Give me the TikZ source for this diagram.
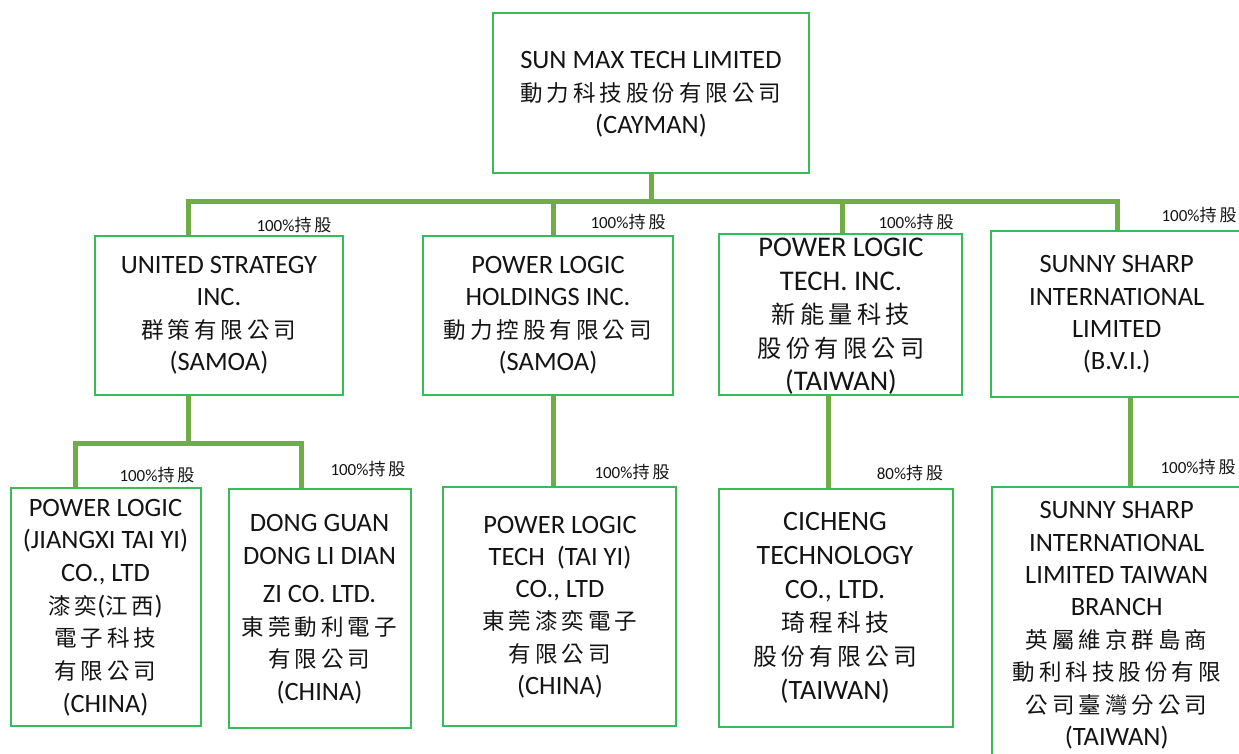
\documentclass[tikz,border=0pt]{standalone}
\usepackage{fontspec}
\setmainfont{Carlito}
\newfontfamily\cjk[Scale=0.85,LetterSpace=17.65]{Noto Sans CJK TC}
\definecolor{boxgreen}{RGB}{55,188,90}
\definecolor{linegreen}{RGB}{112,173,71}
\definecolor{txt}{RGB}{20,20,20}
\newcommand\cj[1]{{\cjk #1}}
\newcommand\sr{\rule[-.28\baselineskip]{0pt}{\baselineskip}}
\newcommand\pct[1]{#1\%{\fontsize{20pt}{20pt}\selectfont\cjk 持股}}
\newcommand\mkbox[5]{\node[bx, minimum width={#4-#2}, minimum height={#5-#3}] (#1) at ({(#2+#4)/2},{(#3+#5)/2}) {};}
\tikzset{
  bx/.style={draw=boxgreen, line width=1.4pt, inner sep=0pt},
  conn/.style={draw=linegreen, line width=5pt},
  tx/.style={align=center, inner sep=0pt, text=txt, font=\fontsize{26.5pt}{32.5pt}\selectfont},
  lbl/.style={inner sep=0pt, text=txt, font=\fontsize{17pt}{20pt}\selectfont}
}
\begin{document}
\begin{tikzpicture}[x=1pt,y=-1pt]
\useasboundingbox (0,0) rectangle (1239,753);
\clip (0,0) rectangle (1239,753);
% boxes
\mkbox{root}{493}{13}{809}{173}
\mkbox{us}{95}{236}{343}{395}
\mkbox{plh}{423}{236}{673}{395}
\mkbox{plt}{719}{234}{962}{395}
\mkbox{ss}{991}{231}{1250}{397}
\mkbox{jx}{11}{488}{201}{726}
\mkbox{dg}{229}{489}{411}{728}
\mkbox{pty}{443}{487}{676}{726}
\mkbox{cc}{719}{489}{953}{727}
\mkbox{sst}{992}{487}{1250}{770}
% texts
\node[tx] (rtt) at (651,94) {\sr SUN MAX TECH LIMITED\\\sr\cj{動力科技股份有限公司}\\\sr (CAYMAN)};
\node[tx] (ust) at (219,315) {\sr UNITED STRATEGY\\\sr INC.\\\sr\cj{群策有限公司}\\\sr (SAMOA)};
\node[tx] (plht) at (548,315) {\sr POWER LOGIC\\\sr HOLDINGS INC.\\\sr\cj{動力控股有限公司}\\\sr (SAMOA)};
\node[tx, font=\fontsize{28.5pt}{33.6pt}\selectfont] (pltt) at (841,316.2) {\sr POWER LOGIC\\\sr TECH. INC.\\\sr\cj{新能量科技}\\\sr\cj{股份有限公司}\\\sr (TAIWAN)};
\node[tx, font=\fontsize{26.5pt}{32.3pt}\selectfont] (sst1) at (1116.7,314.2) {\sr SUNNY SHARP\\\sr INTERNATIONAL\\\sr LIMITED\\\sr (B.V.I.)};
\node[tx, font=\fontsize{26.5pt}{32.7pt}\selectfont] (jxt) at (105.5,607) {\sr POWER LOGIC\\\sr (JIANGXI TAI YI)\\\sr CO., LTD\\\sr\cj{漆奕}(\cj{江西})\\\sr\cj{電子科技}\\\sr\cj{有限公司}\\\sr (CHINA)};
\node[tx] (dgt) at (319.5,608.8) {\sr DONG GUAN\\\sr DONG LI DIAN\\[6pt]\sr ZI CO. LTD.\\\sr\cj{東莞動利電子}\\\sr\cj{有限公司}\\\sr (CHINA)};
\node[tx, font=\fontsize{26.5pt}{32.3pt}\selectfont] (ptyt) at (560,606.7) {\sr POWER LOGIC\\\sr TECH~ (TAI YI)\\\sr CO., LTD\\\sr\cj{東莞漆奕電子}\\\sr\cj{有限公司}\\\sr (CHINA)};
\node[tx, font=\fontsize{28pt}{33.7pt}\selectfont] (cct) at (835,607.5) {\sr CICHENG\\\sr TECHNOLOGY\\\sr CO., LTD.\\\sr\cj{琦程科技}\\\sr\cj{股份有限公司}\\\sr (TAIWAN)};
\node[tx, font=\fontsize{26.5pt}{32.4pt}\selectfont] (sstt) at (1116.7,625) {\sr SUNNY SHARP\\\sr INTERNATIONAL\\\sr LIMITED TAIWAN\\\sr BRANCH\\\sr\cj{英屬維京群島商}\\\sr\cj{動利科技股份有限}\\\sr\cj{公司臺灣分公司}\\\sr (TAIWAN)};
% connectors
\coordinate (b1) at (188,201.5);
\coordinate (b2) at (553,201.5);
\coordinate (b3) at (842,201.5);
\coordinate (b4) at (1117,201.5);
\draw[conn] (root.south) -- (root.south |- b1);
\draw[conn] (b1 |- us.north) -- (b1) -- (b4) -- (b4 |- ss.north);
\draw[conn] (b2) -- (b2 |- plh.north);
\draw[conn] (b3) -- (b3 |- plt.north);
\coordinate (u1) at (75,443.5);
\coordinate (u2) at (301,443.5);
\draw[conn] (b1 |- us.south) -- (b1 |- u1);
\draw[conn] (u1 |- jx.north) -- (u1) -- (u2) -- (u2 |- dg.north);
\draw[conn] (b2 |- plh.south) -- (b2 |- pty.north);
\coordinate (c3) at (828,440);
\draw[conn] (c3 |- plt.south) -- (c3 |- cc.north);
\coordinate (c4) at (1130.7,440);
\draw[conn] (c4 |- ss.south) -- (c4 |- sst.north);
% labels
\node[lbl] (l1) at (294,225) {\pct{100}};
\node[lbl] (l2) at (628,221.7) {\pct{100}};
\node[lbl] (l3) at (916,221.7) {\pct{100}};
\node[lbl] (l4) at (1199,215) {\pct{100}};
\node[lbl] (l5) at (157,475) {\pct{100}};
\node[lbl] (l6) at (368,469) {\pct{100}};
\node[lbl] (l7) at (632,471.7) {\pct{100}};
\node[lbl] (l8) at (910,473.3) {\pct{80}};
\node[lbl] (l9) at (1198,466.7) {\pct{100}};
\end{tikzpicture}
\end{document}
